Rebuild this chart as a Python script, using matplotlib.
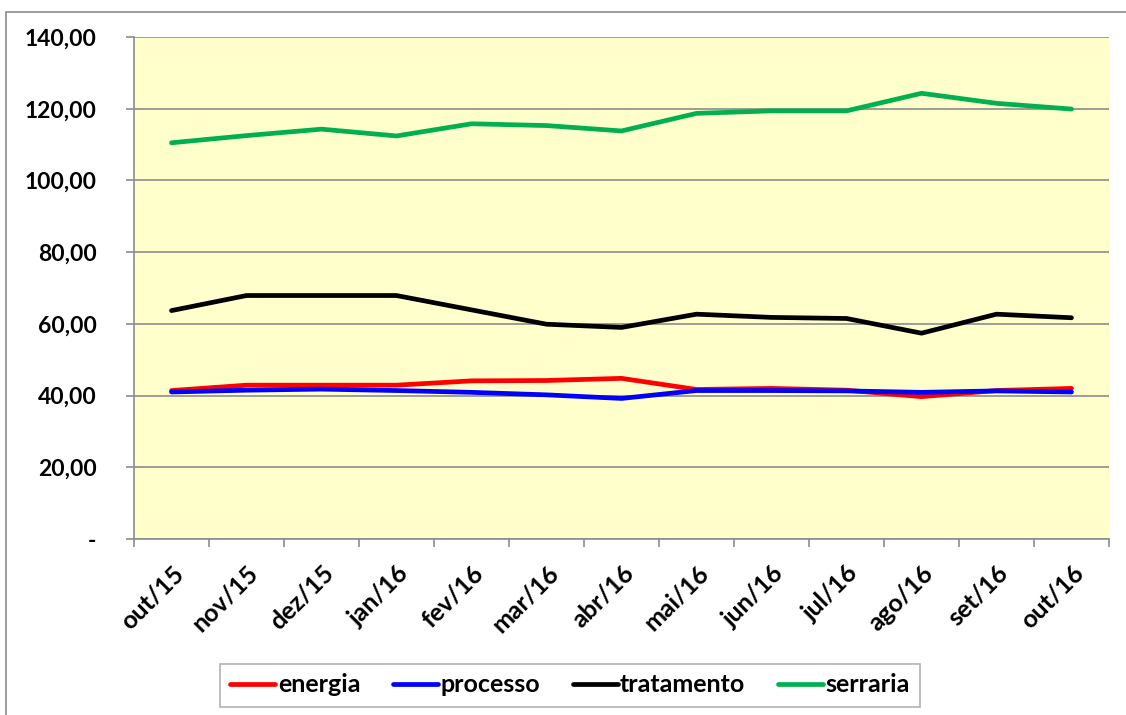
import matplotlib.pyplot as plt
import matplotlib.patches as mpatches
from matplotlib.ticker import FixedLocator, FuncFormatter
import numpy as np

plt.rcParams['font.family'] = ['Lato', 'DejaVu Sans']
plt.rcParams['font.weight'] = 'bold'

meses = ['out/15', 'nov/15', 'dez/15', 'jan/16', 'fev/16', 'mar/16', 'abr/16',
         'mai/16', 'jun/16', 'jul/16', 'ago/16', 'set/16', 'out/16']

energia = [41.4, 42.9, 42.9, 42.9, 44.1, 44.2, 44.8, 41.7, 42.0, 41.5, 39.7, 41.4, 42.0]
processo = [41.0, 41.5, 41.8, 41.4, 40.9, 40.2, 39.2, 41.4, 41.4, 41.3, 40.9, 41.3, 41.0]
tratamento = [63.7, 67.9, 67.9, 67.9, 63.9, 59.9, 59.0, 62.7, 61.8, 61.5, 57.4, 62.7, 61.7]
serraria = [110.5, 112.5, 114.3, 112.4, 115.8, 115.3, 113.8, 118.7, 119.4, 119.4, 124.3, 121.5, 119.9]

series = [('energia', energia, '#FF0000'),
          ('processo', processo, '#0000FF'),
          ('tratamento', tratamento, '#000000'),
          ('serraria', serraria, '#00B050')]

fig = plt.figure(figsize=(11.26, 7.15), dpi=100)
fig.patches.append(mpatches.Rectangle((6 / 1126, -0.05), 1.2, 1 - 12 / 715 + 0.05,
                                      transform=fig.transFigure, fill=False,
                                      edgecolor='#8c8c8c', lw=1.2))

ax = fig.add_axes([134 / 1126, 1 - 539 / 715, (1109 - 134) / 1126, (539 - 37) / 715])
ax.set_facecolor('#FFFFCC')

x = np.arange(len(meses))
for nome, vals, cor in series:
    ax.plot(x, vals, color=cor, lw=3.4, label=nome, solid_capstyle='round')

ax.set_xlim(-0.5, len(meses) - 0.5)
ax.set_ylim(0, 140)
ax.set_yticks(np.arange(0, 141, 20))
ax.yaxis.set_major_formatter(FuncFormatter(
    lambda v, p: '-' if v == 0 else f'{v:.2f}'.replace('.', ',')))
ax.grid(axis='y', color='#8c8c8c', lw=1.2)
ax.set_axisbelow(True)

ax.set_xticks(x)
ax.set_xticklabels(meses, rotation=45, ha='right', rotation_mode='anchor')
ax.xaxis.set_minor_locator(FixedLocator(np.arange(-0.5, len(meses), 1)))
ax.tick_params(axis='x', which='major', length=0, pad=16, labelsize=18)
ax.tick_params(axis='x', which='minor', length=6, color='#8c8c8c', width=1.2)
ax.tick_params(axis='y', length=6, color='#8c8c8c', width=1.2, pad=21, labelsize=16.5)

for s in ['top', 'right']:
    ax.spines[s].set_visible(False)
for s in ['left', 'bottom']:
    ax.spines[s].set_color('#8c8c8c')
    ax.spines[s].set_linewidth(1.2)

leg = fig.legend(loc='center', bbox_to_anchor=(570 / 1126, 1 - 685 / 715), ncol=4,
                 fontsize=18, frameon=True, fancybox=False, edgecolor='#a0a0a0',
                 handlelength=1.8, handletextpad=0.1, columnspacing=1.3,
                 borderpad=0.4, borderaxespad=0)
leg.get_frame().set_linewidth(1.2)

plt.savefig('out.png', dpi=100)
